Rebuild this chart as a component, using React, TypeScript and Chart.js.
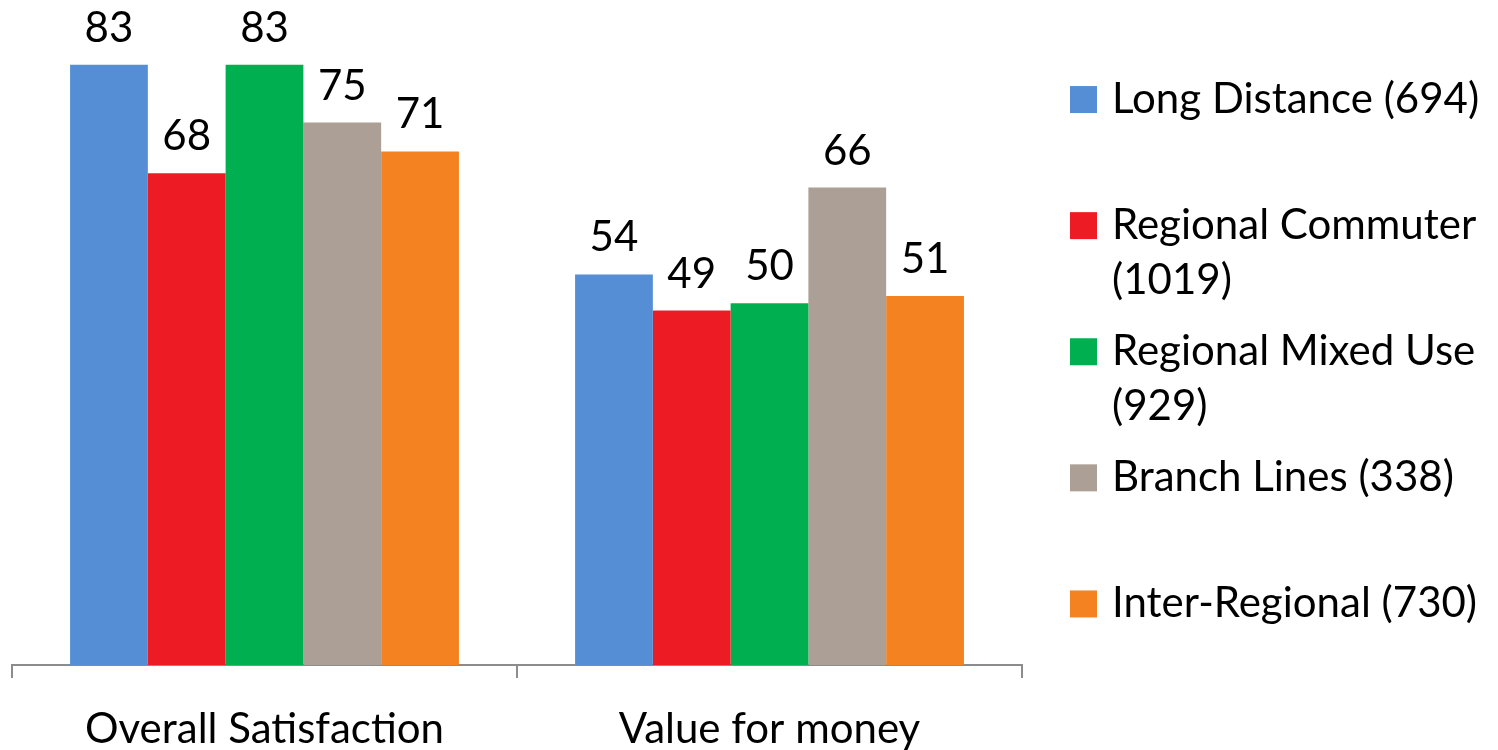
import React, { useEffect, useRef } from "react";
import { Chart, registerables } from "chart.js";

Chart.register(...registerables);

// Categories and series
const categories = ["Overall Satisfaction", "Value for money"];
const seriesNames = [
  "Long Distance (694)",
  "Regional Commuter (1019)",
  "Regional Mixed Use (929)",
  "Branch Lines (338)",
  "Inter-Regional (730)",
];
const longDistance = [83, 54];
const regionalCommuter = [68, 49];
const regionalMixedUse = [83, 50];
const branchLines = [75, 66];
const interRegional = [71, 51];
const seriesColors = ["#558ED5", "#ED1C24", "#00B050", "#AC9F95", "#F58220"];

const FONT_FAMILY = "Lato, 'Open Sans', sans-serif";
const FONT_SIZE = 42;
const AXIS_COLOR = "#8C8C8C";

// Value labels above every bar
const valueLabels = {
  id: "valueLabels",
  afterDatasetsDraw(chart: any) {
    const ctx = chart.ctx;
    ctx.save();
    ctx.font = `${FONT_SIZE}px ${FONT_FAMILY}`;
    ctx.fillStyle = "#000";
    ctx.textAlign = "center";
    ctx.textBaseline = "alphabetic";
    chart.data.datasets.forEach((ds: any, di: number) => {
      const meta = chart.getDatasetMeta(di);
      meta.data.forEach((bar: any, i: number) => {
        ctx.fillText(String(ds.data[i]), bar.x, bar.y - 23);
      });
    });
    ctx.restore();
  },
};

// Legend on the right, one evenly spaced slot per series, text wrapped to width
const sideLegend = {
  id: "sideLegend",
  afterDraw(chart: any) {
    const ctx = chart.ctx;
    const datasets = chart.data.datasets;
    const top = 36.5;
    const bottom = 667;
    const slot = (bottom - top) / datasets.length;
    const boxX = 1070;
    const box = 27;
    const textX = 1112;
    const maxWidth = 380;
    const lineGap = 55;
    ctx.save();
    ctx.font = `${FONT_SIZE}px ${FONT_FAMILY}`;
    ctx.textAlign = "left";
    ctx.textBaseline = "alphabetic";
    datasets.forEach((ds: any, i: number) => {
      const cy = top + slot * (i + 0.5);
      ctx.fillStyle = ds.backgroundColor;
      ctx.fillRect(boxX, cy - box / 2, box, box);
      const words = String(ds.label).split(" ");
      const lines: string[] = [];
      let cur = "";
      words.forEach((w) => {
        const trial = cur ? cur + " " + w : w;
        if (cur && ctx.measureText(trial).width > maxWidth) {
          lines.push(cur);
          cur = w;
        } else {
          cur = trial;
        }
      });
      if (cur) lines.push(cur);
      ctx.fillStyle = "#000";
      lines.forEach((ln, k) => {
        ctx.fillText(ln, textX, cy + 13 + k * lineGap);
      });
    });
    ctx.restore();
  },
};

export default function App() {
  const canvasRef = useRef<HTMLCanvasElement | null>(null);

  useEffect(() => {
    const canvas = canvasRef.current;
    if (!canvas) return;
    const values = [longDistance, regionalCommuter, regionalMixedUse, branchLines, interRegional];
    const chart = new Chart(canvas, {
      type: "bar",
      data: {
        labels: categories,
        datasets: values.map((data, i) => ({
          label: seriesNames[i],
          data,
          backgroundColor: seriesColors[i],
          borderWidth: 0,
          categoryPercentage: 0.77,
          barPercentage: 1.0,
        })),
      },
      options: {
        responsive: false,
        animation: false,
        layout: { padding: { top: 14, left: 12, right: 476, bottom: 0 } },
        plugins: {
          legend: { display: false },
          tooltip: { enabled: false },
          title: { display: false },
        },
        scales: {
          x: {
            offset: true,
            grid: {
              display: true,
              drawOnChartArea: false,
              drawTicks: true,
              tickLength: 13,
              color: AXIS_COLOR,
              lineWidth: 2,
            },
            border: { display: true, color: AXIS_COLOR, width: 2 },
            ticks: {
              color: "#000",
              padding: 26,
              font: { family: FONT_FAMILY, size: FONT_SIZE },
              maxRotation: 0,
            },
            afterFit: (scale: any) => {
              scale.height = 85;
            },
          },
          y: {
            display: false,
            min: 0,
            max: 90,
          },
        },
      },
      plugins: [valueLabels, sideLegend],
    });
    return () => chart.destroy();
  }, []);

  return (
    <div style={{ position: "fixed", left: 0, top: 0, width: 1498, height: 750, background: "#fff" }}>
      <canvas ref={canvasRef} width={1498} height={750} style={{ display: "block" }} />
    </div>
  );
}
